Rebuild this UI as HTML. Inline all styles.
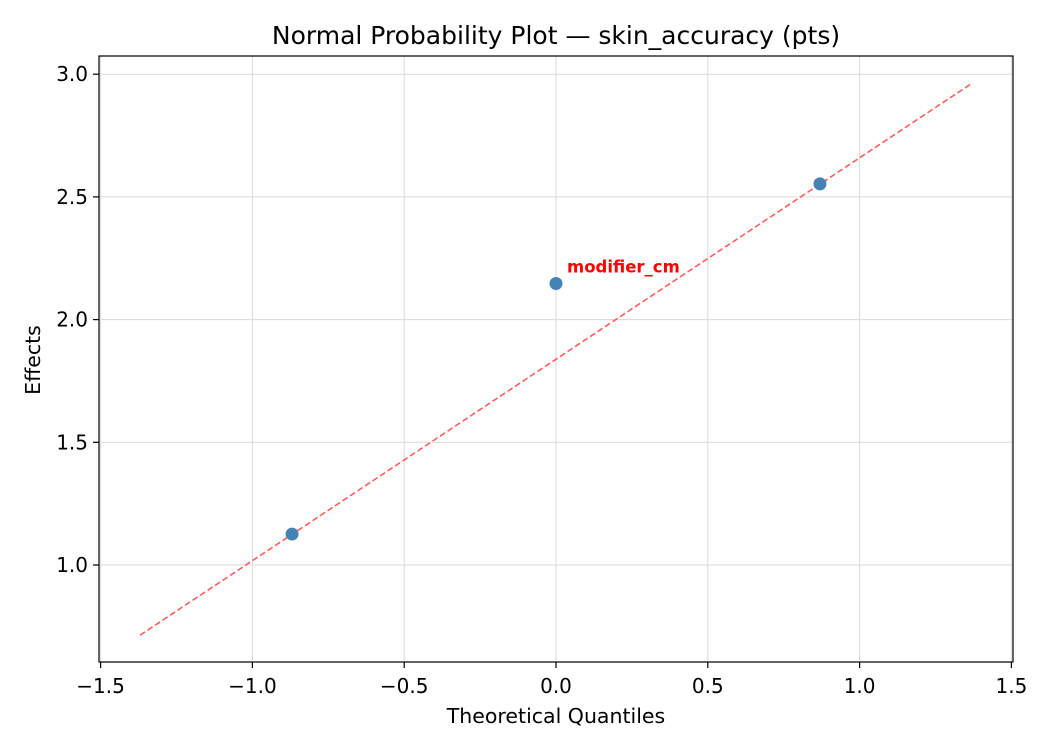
<!DOCTYPE html>
<html><head><meta charset="utf-8"><style>
body{margin:0;background:#fff;font-family:"Liberation Sans","DejaVu Sans",sans-serif;}
svg text{font-family:"DejaVu Sans","Liberation Sans",sans-serif;}
</style></head><body>
<svg id="chart" width="1050" height="750" xmlns="http://www.w3.org/2000/svg">
<rect width="1050" height="750" fill="#fff"/>
<g id="grid"></g>
<g id="marks"></g>
<rect x="99" y="56" width="914" height="606" fill="none" stroke="#000" stroke-width="1.2"/>
<g id="axes"></g>
<text x="556" y="44" text-anchor="middle" font-size="25">Normal Probability Plot — skin_accuracy (pts)</text>
<text x="556" y="723" text-anchor="middle" font-size="20.5">Theoretical Quantiles</text>
<text x="40" y="360" text-anchor="middle" font-size="20.5" transform="rotate(-90 40 360)">Effects</text>
</svg>
<script>
const xTicks=[-1.5,-1.0,-0.5,0.0,0.5,1.0,1.5];
const yTicks=[1.0,1.5,2.0,2.5,3.0];
const quantiles=[-0.8694,0.0,0.8694];
const effects=[1.126,2.147,2.553];
const pointLabels=["","modifier_cm",""];
const fitX=[-1.37,1.37];
const fitY=[0.714,2.963];
const xs=v=>556+v*303.6;
const ys=v=>565-(v-1)*245.4;
const NS="http://www.w3.org/2000/svg";
function mk(tag,attrs,parent){const e=document.createElementNS(NS,tag);for(const k in attrs)e.setAttribute(k,attrs[k]);document.getElementById(parent).appendChild(e);return e;}
xTicks.forEach(t=>{
 let g=mk('line',{x1:xs(t),x2:xs(t),y1:56,y2:662,stroke:'#dadada','stroke-width':1},'grid');
 
 
 let l=mk('line',{x1:xs(t),x2:xs(t),y1:662,y2:668,stroke:'#000','stroke-width':1.2},'axes');
 
 
 let tx=mk('text',{x:xs(t),y:693,'text-anchor':'middle','font-size':20},'axes');
 tx.textContent=(t<0?'\u2212':'')+Math.abs(t).toFixed(1);
 
 
});
yTicks.forEach(t=>{
 let g=mk('line',{x1:99,x2:1013,y1:ys(t),y2:ys(t),stroke:'#dadada','stroke-width':1},'grid');
 
 
 let l=mk('line',{x1:93,x2:99,y1:ys(t),y2:ys(t),stroke:'#000','stroke-width':1.2},'axes');
 
 
 let tx=mk('text',{x:88,y:ys(t)+7,'text-anchor':'end','font-size':20},'axes');
 tx.textContent=t.toFixed(1);
 
 
});
let fl=mk('line',{x1:xs(fitX[0]),y1:ys(fitY[0]),x2:xs(fitX[1]),y2:ys(fitY[1]),stroke:'#ff5c5c','stroke-width':1.6,'stroke-dasharray':'6,3'},'marks');


quantiles.forEach((q,i)=>{
 let c=mk('circle',{cx:xs(q),cy:ys(effects[i]),r:6.5,fill:'#4682b4'},'marks');
 
 
 if(pointLabels[i]){
  let t=mk('text',{x:xs(q)+11,y:ys(effects[i])-11,fill:'#ff0000','font-size':16.5,'font-weight':'bold'},'marks');
  t.textContent=pointLabels[i];
  
  
 }
});
</script>
</body></html>
